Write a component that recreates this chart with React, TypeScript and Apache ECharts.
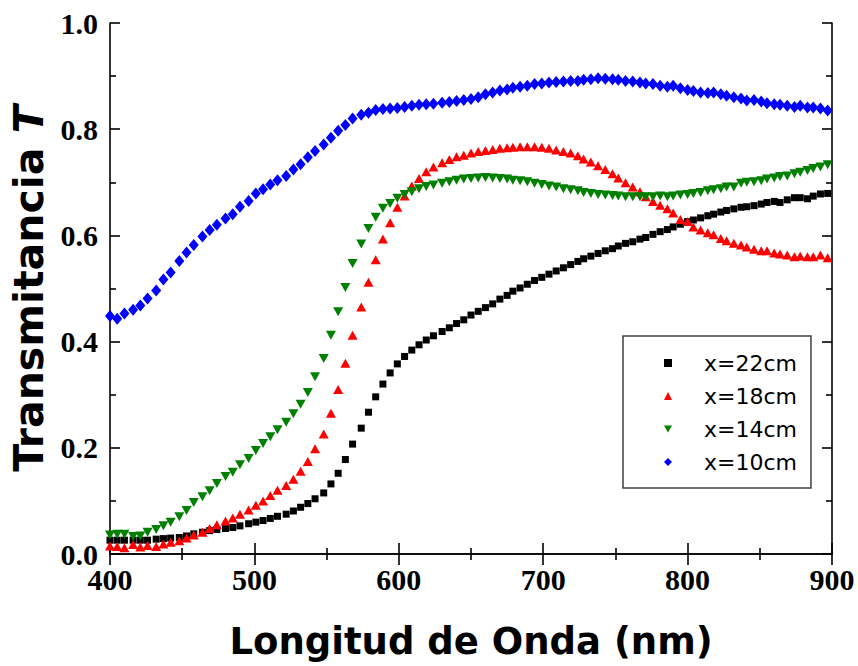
import React, { useEffect, useRef } from "react";
import * as echarts from "echarts";

const WAVELENGTH = [
  400, 405, 410, 416, 421, 426, 432, 437, 442, 448,
  453, 458, 464, 469, 474, 480, 485, 490, 496, 501,
  506, 511, 516, 522, 527, 532, 537, 542, 548, 553,
  558, 563, 568, 574, 579, 584, 589, 594, 599, 604,
  609, 614, 619, 624, 630, 635, 640, 645, 650, 655,
  660, 665, 670, 675, 679, 684, 689, 694, 699, 704,
  709, 714, 719, 724, 728, 733, 738, 743, 748, 752,
  757, 762, 767, 771, 776, 781, 786, 790, 795, 800,
  804, 809, 814, 818, 823, 827, 832, 837, 841, 846,
  851, 855, 860, 864, 869, 874, 878, 883, 887, 892,
  897,
];

const T_22CM = [
  0.026, 0.026, 0.026, 0.026, 0.026, 0.026, 0.028, 0.029, 0.030, 0.031,
  0.034, 0.038, 0.041, 0.044, 0.046, 0.048, 0.050, 0.053, 0.057, 0.060,
  0.063, 0.067, 0.071, 0.075, 0.081, 0.088, 0.095, 0.104, 0.115, 0.132,
  0.152, 0.178, 0.207, 0.237, 0.267, 0.296, 0.320, 0.341, 0.358, 0.372,
  0.384, 0.394, 0.403, 0.411, 0.419, 0.426, 0.434, 0.441, 0.450, 0.457,
  0.464, 0.471, 0.480, 0.487, 0.495, 0.501, 0.508, 0.515, 0.521, 0.527,
  0.533, 0.539, 0.545, 0.551, 0.556, 0.561, 0.566, 0.571, 0.575, 0.580,
  0.585, 0.588, 0.593, 0.596, 0.602, 0.607, 0.611, 0.616, 0.621, 0.626,
  0.629, 0.633, 0.637, 0.640, 0.644, 0.647, 0.650, 0.653, 0.654, 0.656,
  0.659, 0.662, 0.664, 0.662, 0.667, 0.671, 0.671, 0.669, 0.674, 0.678,
  0.679,
];

const T_18CM = [
  0.015, 0.014, 0.012, 0.018, 0.013, 0.016, 0.014, 0.019, 0.022, 0.025,
  0.030, 0.036, 0.041, 0.048, 0.055, 0.062, 0.068, 0.075, 0.083, 0.092,
  0.100, 0.110, 0.120, 0.129, 0.141, 0.156, 0.174, 0.198, 0.226, 0.265,
  0.310, 0.359, 0.412, 0.465, 0.512, 0.554, 0.593, 0.624, 0.653, 0.674,
  0.693, 0.707, 0.720, 0.729, 0.737, 0.743, 0.748, 0.751, 0.755, 0.758,
  0.760, 0.762, 0.764, 0.765, 0.766, 0.767, 0.767, 0.767, 0.766, 0.764,
  0.761, 0.758, 0.755, 0.750, 0.744, 0.738, 0.731, 0.724, 0.716, 0.708,
  0.699, 0.691, 0.682, 0.673, 0.664, 0.657, 0.650, 0.642, 0.630, 0.626,
  0.616, 0.610, 0.605, 0.601, 0.594, 0.590, 0.585, 0.582, 0.578, 0.574,
  0.571, 0.571, 0.567, 0.565, 0.563, 0.560, 0.561, 0.560, 0.560, 0.563,
  0.558,
];

const T_14CM = [
  0.036, 0.037, 0.037, 0.033, 0.034, 0.041, 0.046, 0.053, 0.060, 0.070,
  0.082, 0.097, 0.108, 0.119, 0.133, 0.146, 0.154, 0.168, 0.180, 0.195,
  0.208, 0.221, 0.234, 0.248, 0.264, 0.282, 0.304, 0.334, 0.368, 0.412,
  0.456, 0.502, 0.547, 0.584, 0.613, 0.634, 0.651, 0.660, 0.670, 0.677,
  0.682, 0.688, 0.692, 0.695, 0.698, 0.701, 0.704, 0.706, 0.707, 0.708,
  0.709, 0.708, 0.707, 0.706, 0.704, 0.703, 0.701, 0.698, 0.696, 0.693,
  0.691, 0.688, 0.686, 0.684, 0.681, 0.679, 0.677, 0.676, 0.675, 0.674,
  0.673, 0.673, 0.673, 0.673, 0.673, 0.674, 0.673, 0.674, 0.676, 0.677,
  0.679, 0.681, 0.684, 0.686, 0.688, 0.691, 0.691, 0.698, 0.700, 0.701,
  0.703, 0.706, 0.708, 0.711, 0.712, 0.716, 0.719, 0.722, 0.726, 0.729,
  0.733,
];

const T_10CM = [
  0.448, 0.443, 0.453, 0.460, 0.468, 0.481, 0.496, 0.517, 0.530, 0.552,
  0.568, 0.582, 0.598, 0.610, 0.620, 0.632, 0.640, 0.654, 0.665, 0.679,
  0.687, 0.696, 0.704, 0.712, 0.724, 0.734, 0.747, 0.759, 0.771, 0.784,
  0.797, 0.808, 0.820, 0.827, 0.831, 0.836, 0.838, 0.839, 0.840, 0.842,
  0.844, 0.846, 0.847, 0.848, 0.850, 0.851, 0.853, 0.855, 0.857, 0.860,
  0.866, 0.869, 0.873, 0.875, 0.878, 0.880, 0.882, 0.885, 0.886, 0.888,
  0.889, 0.890, 0.891, 0.891, 0.893, 0.894, 0.896, 0.895, 0.894, 0.893,
  0.891, 0.890, 0.888, 0.886, 0.885, 0.882, 0.880, 0.882, 0.877, 0.874,
  0.872, 0.869, 0.868, 0.869, 0.866, 0.863, 0.860, 0.858, 0.854, 0.855,
  0.852, 0.849, 0.847, 0.846, 0.844, 0.842, 0.844, 0.841, 0.841, 0.839,
  0.835,
];

const SERIES_NAMES = ["x=22cm", "x=18cm", "x=14cm", "x=10cm"];
const X_TICKS = { min: 400, max: 900, interval: 100 };
const Y_TICKS = { min: 0, max: 1, interval: 0.2 };

const pair = (vals: number[]) => vals.map((v, i) => [WAVELENGTH[i], v]);

export default function App() {
  const ref = useRef<HTMLDivElement>(null);

  useEffect(() => {
    if (!ref.current) return;
    const chart = echarts.init(ref.current, undefined, { renderer: "svg" });

    const axisLine = { show: true, lineStyle: { color: "#000", width: 1.6 } };
    const xTick = { show: true, inside: true, length: 11, lineStyle: { color: "#000", width: 1.6 } };
    const xMinor = { show: true, splitNumber: 2, length: 6, lineStyle: { color: "#000", width: 1.6 } };
    const yTick = { show: true, inside: true, length: 10, lineStyle: { color: "#000", width: 1.6 } };
    const yMinor = { show: true, splitNumber: 2, length: 6, lineStyle: { color: "#000", width: 1.6 } };
    const tickLabel = {
      fontFamily: "Liberation Serif",
      fontWeight: "bold",
      fontSize: 30,
      color: "#000",
    };

    chart.setOption({
      animation: false,
      backgroundColor: "#fff",
      grid: { left: 110, right: 26, top: 23, bottom: 112, containLabel: false },
      legend: {
        left: 623,
        top: 336,
        orient: "vertical",
        data: [
          { name: SERIES_NAMES[0], icon: "rect" },
          { name: SERIES_NAMES[1], icon: "triangle" },
          { name: SERIES_NAMES[2], icon: "path://M0,0L10,0L5,9Z" },
          { name: SERIES_NAMES[3], icon: "diamond" },
        ],
        itemWidth: 8,
        itemHeight: 8,
        itemGap: 11,
        symbolKeepAspect: true,
        padding: [16, 14, 15, 41],
        borderColor: "#404040",
        borderWidth: 1.5,
        backgroundColor: "#fff",
        formatter: (name: string) => `{t|${name}}`,
        textStyle: {
          fontFamily: "DejaVu Sans",
          fontSize: 22,
          color: "#000",
          lineHeight: 22,
          rich: {
            t: { fontFamily: "DejaVu Sans", fontSize: 22, color: "#000", lineHeight: 22, padding: [0, 0, 0, 27] },
          },
        },
      },
      xAxis: [
        {
          type: "value",
          ...X_TICKS,
          position: "bottom",
          axisLine,
          axisTick: xTick,
          minorTick: xMinor,
          splitLine: { show: false },
          axisLabel: { ...tickLabel, margin: 10 },
          name: "Longitud de Onda (nm)",
          nameLocation: "middle",
          nameGap: 69,
          nameTextStyle: { fontFamily: "DejaVu Sans", fontWeight: "bold", fontSize: 37, color: "#000" },
        },
        {
          type: "value",
          ...X_TICKS,
          position: "top",
          axisLine,
          axisTick: xTick,
          minorTick: xMinor,
          splitLine: { show: false },
          axisLabel: { show: false },
        },
      ],
      yAxis: [
        {
          type: "value",
          ...Y_TICKS,
          position: "left",
          axisLine,
          axisTick: yTick,
          minorTick: yMinor,
          splitLine: { show: false },
          axisLabel: { ...tickLabel, margin: 12, formatter: (v: number) => v.toFixed(1) },
          name: "{n|Transmitancia }{i|T}",
          nameLocation: "middle",
          nameGap: 56,
          nameTextStyle: {
            fontFamily: "DejaVu Sans",
            fontWeight: "bold",
            fontSize: 41,
            color: "#000",
            rich: {
              n: { fontFamily: "DejaVu Sans", fontWeight: "bold", fontSize: 41, color: "#000" },
              i: { fontFamily: "DejaVu Sans", fontWeight: "bold", fontStyle: "italic", fontSize: 41, color: "#000" },
            },
          },
        },
        {
          type: "value",
          ...Y_TICKS,
          position: "right",
          axisLine,
          axisTick: yTick,
          minorTick: yMinor,
          splitLine: { show: false },
          axisLabel: { show: false },
        },
      ],
      series: [
        {
          name: SERIES_NAMES[0],
          type: "scatter",
          symbol: "rect",
          symbolSize: 7,
          itemStyle: { color: "#000000", opacity: 1 },
          data: pair(T_22CM),
        },
        {
          name: SERIES_NAMES[1],
          type: "scatter",
          symbol: "triangle",
          symbolSize: [10, 9],
          itemStyle: { color: "#ff0000", opacity: 1 },
          data: pair(T_18CM),
        },
        {
          name: SERIES_NAMES[2],
          type: "scatter",
          symbol: "triangle",
          symbolRotate: 180,
          symbolSize: [10, 9],
          itemStyle: { color: "#008000", opacity: 1 },
          data: pair(T_14CM),
        },
        {
          name: SERIES_NAMES[3],
          type: "scatter",
          symbol: "diamond",
          symbolSize: [10, 12],
          itemStyle: { color: "#0000ff", opacity: 1 },
          data: pair(T_10CM),
        },
      ],
    });

    return () => chart.dispose();
  }, []);

  return (
    <div
      ref={ref}
      style={{ position: "fixed", left: 0, top: 0, width: 858, height: 666, background: "#fff" }}
    />
  );
}
